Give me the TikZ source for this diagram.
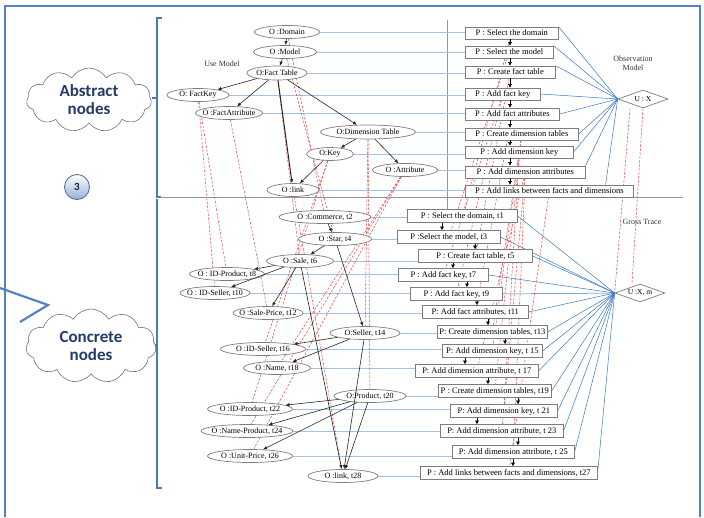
\documentclass[tikz,border=0pt]{standalone}
\usepackage{fontspec}
\setmainfont{Liberation Serif}
\newfontfamily\cloudfont{Carlito}
\usetikzlibrary{arrows.meta,shapes.geometric,shapes.symbols,backgrounds}
\definecolor{frameblue}{RGB}{84,130,196}
\definecolor{brackblue}{RGB}{79,120,185}
\definecolor{lightline}{RGB}{165,195,225}
\definecolor{convblue}{RGB}{55,120,195}
\definecolor{tracered}{RGB}{230,70,70}
\definecolor{nodegray}{RGB}{125,125,125}
\definecolor{cloudtext}{RGB}{35,60,105}
\definecolor{sepgray}{RGB}{150,150,150}
\tikzset{
  zerow/.style={execute at begin node={\hbox to 0pt\bgroup\hss}, execute at end node={\hss\egroup}},
  onode/.style={ellipse, draw=nodegray, fill=white, line width=0.7pt, inner sep=0pt, minimum height=13pt, font=\fontsize{8}{9}\selectfont, zerow},
  pbox/.style={rectangle, draw=nodegray, fill=white, line width=0.6pt, inner sep=0pt, minimum height=12pt, anchor=west, font=\fontsize{8.5}{9}\selectfont, zerow},
  cbox/.style={pbox, minimum height=13pt},
  udiam/.style={diamond, draw=nodegray, fill=white, line width=0.7pt, inner sep=0pt, minimum width=50pt, minimum height=18pt, font=\fontsize{7.5}{8}\selectfont, zerow},
  garr/.style={draw=black!85, line width=0.6pt, -{Latex[length=4pt,width=3.5pt]}},
  parr/.style={draw=black, line width=0.5pt, -{Latex[length=3.5pt,width=4pt]}},
  hline/.style={draw=lightline, line width=0.6pt},
  cline/.style={draw=convblue, line width=0.5pt},
  trace/.style={draw=tracered, line width=0.5pt, dash pattern=on 2.5pt off 1.5pt},
  lbl/.style={font=\fontsize{8}{9}\selectfont, text=black!80, inner sep=0pt},
  cloudnode/.style={cloud, cloud puffs=11, cloud puff arc=120, cloud ignores aspect, draw=black!55, fill=white, line width=0.6pt, inner sep=0pt},
  cloudtxt/.style={align=center, text=cloudtext, inner sep=0pt, font=\cloudfont\bfseries\fontsize{17}{18}\selectfont}
}
\begin{document}
\begin{tikzpicture}[x=1pt,y=-1pt]
\useasboundingbox (0,0) rectangle (704,517);
% frame
\draw[frameblue, line width=1.3pt] (5,517) -- (5,6) -- (700,6) -- (700,517);
% brackets
\draw[brackblue, line width=1.6pt] (162,18) -- (157,18) -- (157,197) -- (161,197);
\draw[brackblue, line width=1.6pt] (157,199) -- (157,488) -- (162,488);
\draw[brackblue, line width=1.2pt] (157,98) -- (152,98);
\draw[brackblue, line width=1.2pt] (157,345) -- (152,345);
% separators
\draw[sepgray, line width=0.8pt] (160,197) -- (683,197);

% clouds and circle
\node[cloudnode, minimum width=125pt, minimum height=64pt] (abscl) at (89,100) {};
\node[cloudtxt] (abstxt) at (89,100) {Abstract\\nodes};
\node[cloudnode, minimum width=130pt, minimum height=74pt] (concl) at (91,346) {};
\node[cloudtxt] (contxt) at (91,346) {Concrete\\nodes};
\node[circle, draw={rgb,255:red,80;green,100;blue,140}, line width=0.8pt, top color=white, bottom color={rgb,255:red,150;green,175;blue,215}, minimum size=25pt, inner sep=0pt, text={rgb,255:red,25;green,40;blue,70}, font=\cloudfont\bfseries\fontsize{11}{12}\selectfont] (three) at (77,187) {3};
\coordinate (arrtip) at (48,305);
\draw[frameblue, line width=2.2pt, line join=miter] (0,288) -- (arrtip) -- (20,322);

% abstract O nodes
\node[onode, minimum width=65pt] (dom) at (287,32) {O :Domain};
\node[onode, minimum width=63pt] (mod) at (285,52) {O :Model};
\node[onode, minimum width=60pt, minimum height=14pt] (ft) at (277,73) {O:Fact Table};
\node[onode, minimum width=62pt] (fk) at (198,95) {O: FactKey};
\node[onode, minimum width=67pt] (fa) at (229,113) {O :FactAttribute};
\node[onode, minimum width=95pt, minimum height=14pt] (dt) at (368,132) {O:Dimension Table};
\node[onode, minimum width=47pt] (key) at (330,154) {O:Key};
\node[onode, minimum width=65pt] (att) at (405,170) {O :Attribute};
\node[onode, minimum width=52pt] (lnk) at (293,190) {O :link};
\node[lbl] (usem) at (222,64) {Use Model};

% abstract P boxes
\node[pbox, minimum width=93pt] (p1) at (465,33) {P : Select the domain};
\node[pbox, minimum width=88pt] (p2) at (465,52) {P : Select the model};
\node[pbox, minimum width=90pt] (p3) at (465,72) {P : Create fact table};
\node[pbox, minimum width=75pt] (p4) at (465,94) {P : Add fact key};
\node[pbox, minimum width=94pt] (p5) at (465,114) {P : Add fact attributes};
\node[pbox, minimum width=113pt] (p6) at (465,134) {P : Create dimension tables};
\node[pbox, minimum width=108pt] (p7) at (465,152) {P : Add dimension key};
\node[pbox, minimum width=120pt] (p8) at (465,172) {P : Add dimension attributes};
\node[pbox, minimum width=168pt] (p9) at (465,191) {P : Add links between facts and dimensions};

\node[udiam] (ux) at (643,99) {U : X};
\node[lbl, align=center] (obs) at (633,63) {Observation\\Model};

% concrete O nodes
\node[onode, minimum width=92pt] (com) at (325,217) {O :Commerce, t2};
\node[onode, minimum width=73pt] (star) at (335,239) {O :Star, t4};
\node[onode, minimum width=67pt] (sale) at (300,261) {O :Sale, t6};
\node[onode, minimum width=75pt] (idp8) at (227,274) {O : ID-Product, t8};
\node[onode, minimum width=70pt] (ids10) at (215,293) {O : ID-Seller, t10};
\node[onode, minimum width=70pt] (sp12) at (268,313) {O :Sale-Price, t12};
\node[onode, minimum width=70pt] (sel14) at (365,333) {O:Seller, t14};
\node[onode, minimum width=85pt] (ids16) at (263,349) {O :ID-Seller, t16};
\node[onode, minimum width=67pt] (name18) at (277,368) {O :Name, t18};
\node[onode, minimum width=72pt] (prod20) at (370,396) {O:Product, t20};
\node[onode, minimum width=85pt] (idp22) at (250,409) {O :ID-Product, t22};
\node[onode, minimum width=92pt] (namep24) at (247,431) {O :Name-Product, t24};
\node[onode, minimum width=85pt] (up26) at (250,456) {O :Unit-Price, t26};
\node[onode, minimum width=70pt] (lnk28) at (343,476) {O :link, t28};

% concrete P boxes
\node[cbox, minimum width=110pt] (t1) at (407,216) {P : Select the domain, t1};
\node[cbox, minimum width=103pt] (t3) at (397,237) {P :Select the model, t3};
\node[cbox, minimum width=114pt] (t5) at (418,256) {P : Create fact table, t5};
\node[cbox, minimum width=90pt] (t7) at (398,275) {P : Add fact key, t7};
\node[cbox, minimum width=92pt] (t9) at (410,294) {P : Add fact key, t9};
\node[cbox, minimum width=106pt] (t11) at (422,312) {P: Add fact attributes, t11};
\node[cbox, minimum width=110pt] (t13) at (437,332) {P: Create dimension tables, t13};
\node[cbox, minimum width=100pt] (t15) at (442,351) {P: Add dimension key, t 15};
\node[cbox, minimum width=123pt] (t17) at (415,371) {P: Add dimension attribute, t 17};
\node[cbox, minimum width=113pt] (t19) at (438,391) {P : Create dimension tables, t19};
\node[cbox, minimum width=107pt] (t21) at (450,411) {P: Add dimension key, t 21};
\node[cbox, minimum width=123pt] (t23) at (440,431) {P: Add dimension attribute, t 23};
\node[cbox, minimum width=122pt] (t25) at (452,452) {P: Add dimension attribute, t 25};
\node[cbox, minimum width=177pt] (t27) at (420,473) {P : Add links between facts and dimensions, t27};

\node[udiam] (uxm) at (640,293) {U :X, m};
\node[lbl] (gross) at (642,222) {Gross Trace};

\begin{scope}[on background layer]
  % vertical separator
  \draw[sepgray, line width=0.8pt] (447,20) -- (t1.north -| 447,0);
  % horizontal correspondence lines
  \foreach \o/\p in {dom/p1, mod/p2, ft/p3, fk/p4, fa/p5, dt/p6, key/p7, att/p8, lnk/p9,
                     com/t1, star/t3, sale/t5, idp8/t7, ids10/t9, sp12/t11, sel14/t13,
                     ids16/t15, name18/t17, prod20/t19, idp22/t21, namep24/t23, up26/t25, lnk28/t27}
    \draw[hline] (\o.east) -- (\o.east -| \p.west);
  % converging lines
  \foreach \a in {p1.north east, p2.north east, p3.north east, p4.east, p5.east, p6.east, p7.east, p8.north east}
    \draw[cline] (\a) -- (ux.west);
  \draw[cline] ([xshift=-28pt]p9.north east) -- (ux.west);
  \foreach \a in {t1,t3,t5,t7,t9,t11,t13,t15,t17,t19,t21,t23,t25,t27}
    \draw[cline] (\a.east) -- (uxm.west);
  % trace lines
  \foreach \a/\b in {dom/com, mod/star, ft/sale, fk/idp8, fk/ids10, fa/sp12, dt/sel14, dt/prod20,
                     key/ids16, key/idp22, att/name18, att/namep24, att/up26, lnk/lnk28,
                     p1/t1, p2/t3, p3/t5, p4/t7, p4/t9, p5/t11, p6/t13, p6/t19, p7/t15, p7/t21,
                     p8/t17, p8/t23, p8/t25, p9/t27}
    \draw[trace] (\a) -- (\b);
  \draw[trace] (ux.south) -- ([xshift=-8pt]uxm.north);
  \draw[trace] ([xshift=-13pt]ux.south) -- (uxm.west);
\end{scope}

% abstract graph edges
\draw[garr] (dom) -- (mod);
\draw[garr] (mod) -- (ft);
\draw[garr] (ft) -- (fk);
\draw[garr] (ft) -- (fa);
\draw[garr] (ft) -- (dt);
\draw[garr, line width=1pt] (ft) -- (lnk);
\draw[garr] (dt) -- (key);
\draw[garr] (dt) -- (att);
\draw[garr] (key) -- (lnk);

% concrete graph edges
\draw[garr] (com) -- (star);
\draw[garr] (star) -- (sale);
\draw[garr] (star) -- (sel14);
\draw[garr] (sale) -- (idp8);
\draw[garr] (sale) -- (ids10);
\draw[garr] (sale) -- (sp12);
\draw[garr] (sale) -- (lnk28);
\draw[garr] (sel14) -- (ids16);
\draw[garr] (sel14) -- (name18);
\draw[garr] (sel14) -- (lnk28);
\draw[garr] (prod20) -- (idp22);
\draw[garr] (prod20) -- (namep24);
\draw[garr] (prod20) -- (up26);
\draw[garr] (prod20) -- (lnk28);

% process arrows
\foreach \a/\b in {p1/p2, p2/p3, p3/p4, p4/p5, p5/p6, p6/p7, p7/p8, p8/p9}
  \draw[parr] (\a.south -| 510,0) -- (\b.north -| 510,0);
\foreach \a/\b/\x in {t1/t3/442, t3/t5/475, t5/t7/453, t7/t9/467, t9/t11/477, t11/t13/488,
                      t13/t15/505, t15/t17/465, t17/t19/488, t19/t21/518, t21/t23/477,
                      t23/t25/518, t25/t27/513}
  \draw[parr] (\a.south -| \x,0) -- (\b.north -| \x,0);
\end{tikzpicture}
\end{document}
